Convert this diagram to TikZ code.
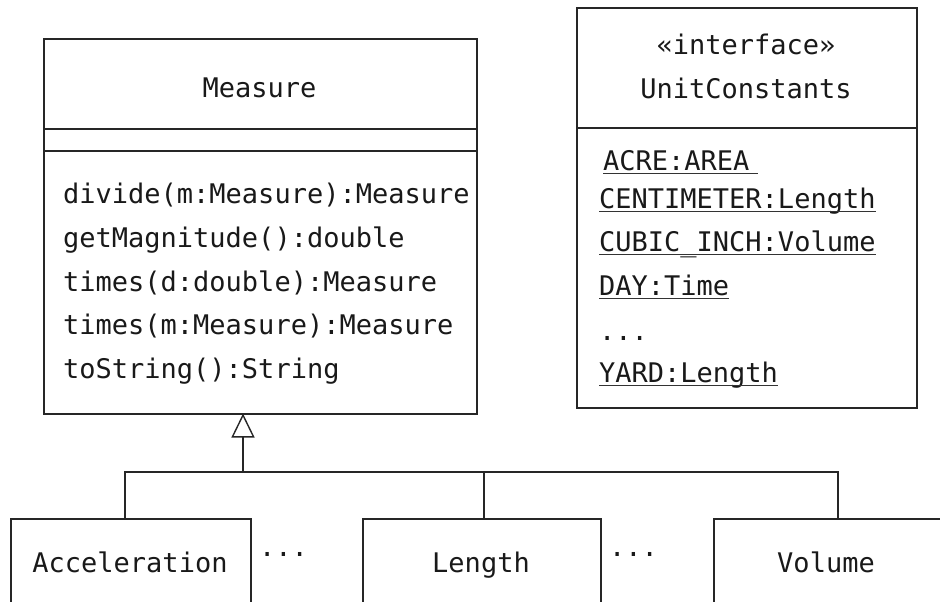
\documentclass[tikz,border=0pt]{standalone}
\usepackage{fontspec}
\setmonofont{DejaVu Sans Mono}
\usetikzlibrary{arrows.meta}
\begin{document}
\begin{tikzpicture}[x=1pt,y=-1pt,
  box/.style={draw=black!85,line width=1.6pt,rectangle,inner sep=0pt},
  txt/.style={inner sep=0pt,anchor=base west,font=\fontsize{27}{27}\ttfamily,text=black!90},
  ctxt/.style={inner sep=0pt,anchor=base,font=\fontsize{27}{27}\ttfamily,text=black!90},
  sep/.style={draw=black!85,line width=1.6pt},
  conn/.style={draw=black!85,line width=1.4pt},
  ul/.style={draw=black!80,line width=1.3pt}]
\clip (0,0) rectangle (940,602);
\fill[white] (0,0) rectangle (940,602);

% Measure class
\node[box,anchor=north west,minimum width=433pt,minimum height=375pt] (measure) at (43,38) {};
\draw[sep] (43,129) -- (476,129);
\draw[sep] (43,151) -- (476,151);
\node[ctxt] (mname) at (259.5,97) {Measure};
\node[txt] (m1) at (63,203) {divide(m:Measure):Measure};
\node[txt] (m2) at (63,247) {getMagnitude():double};
\node[txt] (m3) at (63,291) {times(d:double):Measure};
\node[txt] (m4) at (63,334) {times(m:Measure):Measure};
\node[txt] (m5) at (63,378) {toString():String};

% UnitConstants interface
\node[box,anchor=north west,minimum width=340pt,minimum height=400pt] (units) at (576,7) {};
\draw[sep] (576,128) -- (916,128);
\node[ctxt] (ster) at (746,55) {«interface»};
\node[ctxt] (uname) at (746,99) {UnitConstants};
\node[txt] (a1) at (603,170) {ACRE:AREA};
\node[txt] (a2) at (599,208) {CENTIMETER:Length};
\node[txt] (a3) at (599,251) {CUBIC\_INCH:Volume};
\node[txt] (a4) at (599,295) {DAY:Time};
\node[txt] (a5) at (599,340) {...};
\node[txt] (a6) at (599,382) {YARD:Length};
\draw[ul] ([yshift=-3.5pt]a1.base west) -- ([xshift=8pt,yshift=-3.5pt]a1.base east);
\foreach \n in {a2,a3,a4,a6}
  \draw[ul] ([yshift=-3.5pt]\n.base west) -- ([yshift=-3.5pt]\n.base east);

% Subclasses
\node[box,anchor=north west,minimum width=240pt,minimum height=130pt] (acc) at (10,518) {};
\node[box,anchor=north west,minimum width=238pt,minimum height=130pt] (len) at (362,518) {};
\node[box,anchor=north west,minimum width=260pt,minimum height=130pt] (vol) at (713,518) {};
\node[ctxt] (accname) at (130,572) {Acceleration};
\node[ctxt] (lenname) at (481,572) {Length};
\node[ctxt] (volname) at (826,572) {Volume};
\node[txt] (dots1) at (259,556) {...};
\node[txt] (dots2) at (609,556) {...};

% Generalization
\coordinate (bar) at (243,472);
\coordinate (accin) at (125,518);
\coordinate (lenin) at (484,518);
\coordinate (volin) at (838,518);
\draw[conn] (accin) |- (volin |- bar) -- (volin);
\draw[conn] (lenin) -- (lenin |- bar);
\draw[conn,-{Triangle[open,length=24pt,width=23pt,line width=1.4pt]}] (bar) -- (243,413.5);
\end{tikzpicture}
\end{document}
